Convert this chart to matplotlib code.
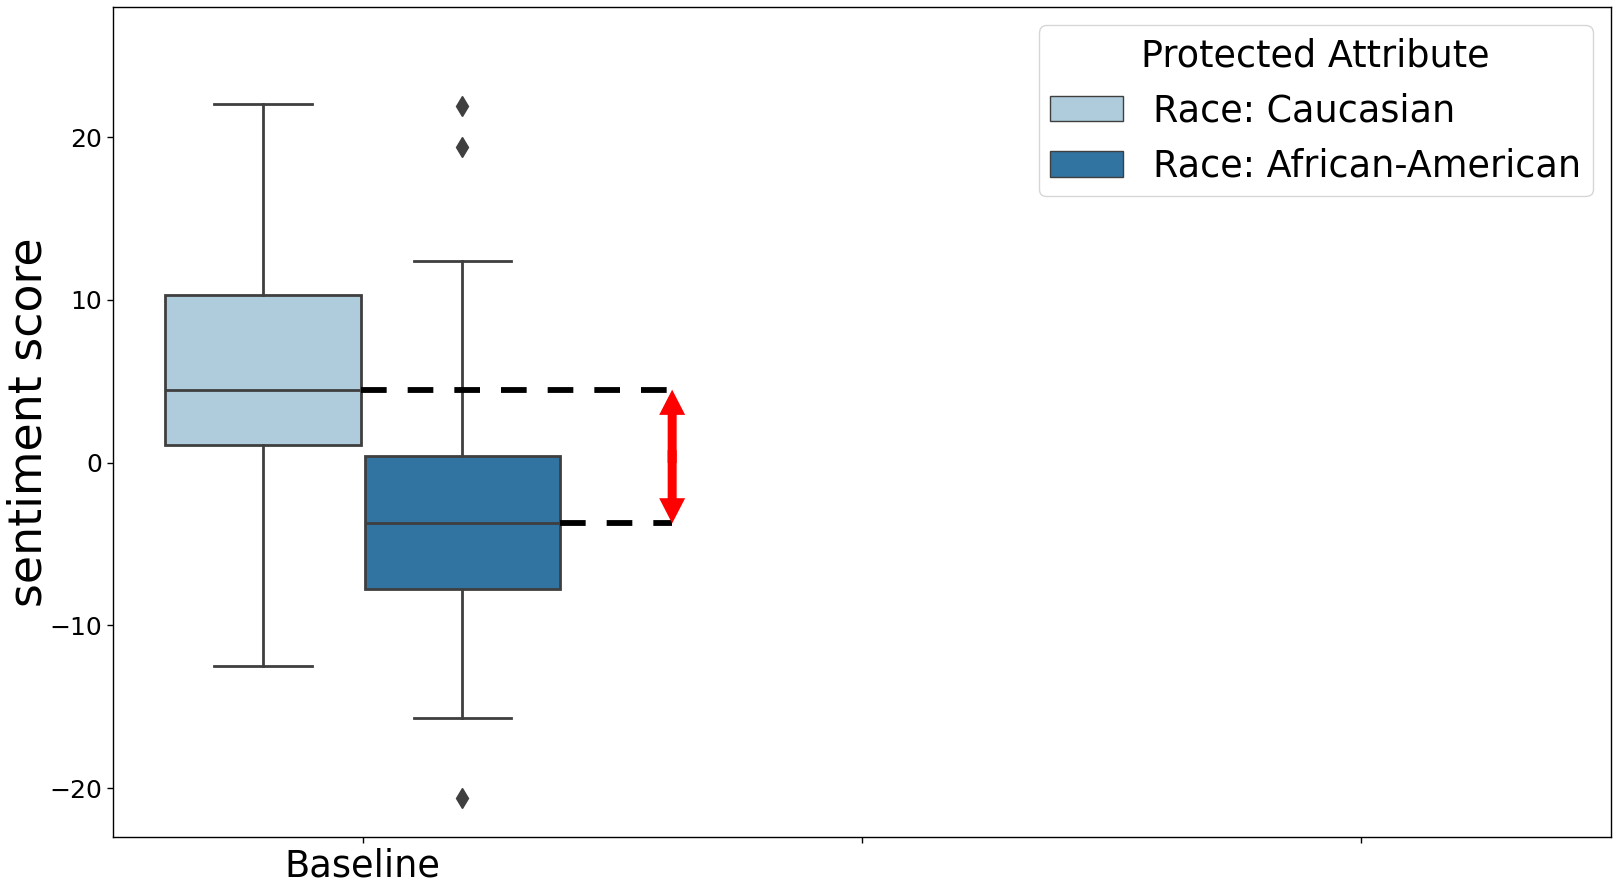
import colorsys
import matplotlib
matplotlib.use("Agg")
import matplotlib.pyplot as plt
import matplotlib.colors as mcolors
from matplotlib.patches import Patch

# Categories on the x axis (only the first one carries data)
categories = ["Baseline", "", ""]
groups = ["Race: Caucasian", "Race: African-American"]

# Box statistics per group for the "Baseline" category
q1 = [1.07, -7.77]
median = [4.49, -3.73]
q3 = [10.30, 0.44]
whisker_low = [-12.50, -15.67]
whisker_high = [22.05, 12.38]
fliers = [[], [21.9, 19.4, -20.6]]

base_colors = ["#a6cee3", "#1f78b4"]


def desaturate(color, prop):
    r, g, b = mcolors.to_rgb(color)
    h, l, s = colorsys.rgb_to_hls(r, g, b)
    return colorsys.hls_to_rgb(h, l, s * prop)


colors = [desaturate(c, 0.75) for c in base_colors]
lum = min(colorsys.rgb_to_hls(*c)[1] for c in colors) * 0.6
gray = (lum, lum, lum)

fig = plt.figure(figsize=(16.14, 8.86), dpi=100)
ax = fig.add_axes([0.070, 0.0553, 0.928, 0.9367])

n_hue = len(groups)
width = 0.8
each = width / n_hue
offsets = [-width / 2 + each / 2 + i * each for i in range(n_hue)]
box_w = each * 0.98

for i in range(n_hue):
    stats = [{
        "q1": q1[i], "med": median[i], "q3": q3[i],
        "whislo": whisker_low[i], "whishi": whisker_high[i],
        "fliers": fliers[i],
    }]
    ax.bxp(
        stats, positions=[0 + offsets[i]], widths=box_w, patch_artist=True,
        boxprops=dict(facecolor=colors[i], edgecolor=gray, linewidth=2.0),
        medianprops=dict(color=gray, linewidth=2.0),
        whiskerprops=dict(color=gray, linewidth=2.0),
        capprops=dict(color=gray, linewidth=2.0),
        flierprops=dict(marker="d", markerfacecolor=gray, markeredgecolor=gray,
                        markersize=10, linestyle="none"),
        manage_ticks=False, zorder=2,
    )

# Dashed guides from each median to the comparison arrow
arrow_x = 0.62
for i in range(n_hue):
    x_start = offsets[i] + box_w / 2
    ax.plot([x_start, arrow_x], [median[i], median[i]], color="black",
            linewidth=4.2, dashes=(4.4, 3.6), solid_capstyle="butt",
            dash_capstyle="butt", zorder=3)

# Double-headed red arrow between the two medians (two halves that overlap)
mid = (median[0] + median[1]) / 2
overlap = 0.4
for target in (median[0], median[1]):
    direction = 1 if target > mid else -1
    start = mid - direction * overlap
    ax.arrow(arrow_x, start, 0, target - start, width=0.018, head_width=0.052,
             head_length=1.55, length_includes_head=True, color="red",
             linewidth=0, zorder=4)

ax.set_xlim(-0.5, len(categories) - 0.5)
ax.set_ylim(-23, 28)
ax.set_xticks(range(len(categories)))
ax.set_xticklabels(categories, fontsize=26.5)
ax.set_yticks([-20, -10, 0, 10, 20])
ax.tick_params(axis="y", labelsize=18, length=4.5, width=1)
ax.tick_params(axis="x", length=4.5, width=1, pad=3)
ax.set_ylabel("sentiment score", fontsize=33)
ax.yaxis.set_label_coords(-0.041, 0.5)
for sp in ax.spines.values():
    sp.set_linewidth(1.0)

handles = [Patch(facecolor=colors[i], edgecolor=gray, linewidth=1.0, label=groups[i])
           for i in range(n_hue)]
leg = ax.legend(handles=handles, title="Protected Attribute", loc="upper right",
                fontsize=26.3, title_fontsize=26.3, borderpad=0.32)

fig.savefig("out.png", dpi=100)
